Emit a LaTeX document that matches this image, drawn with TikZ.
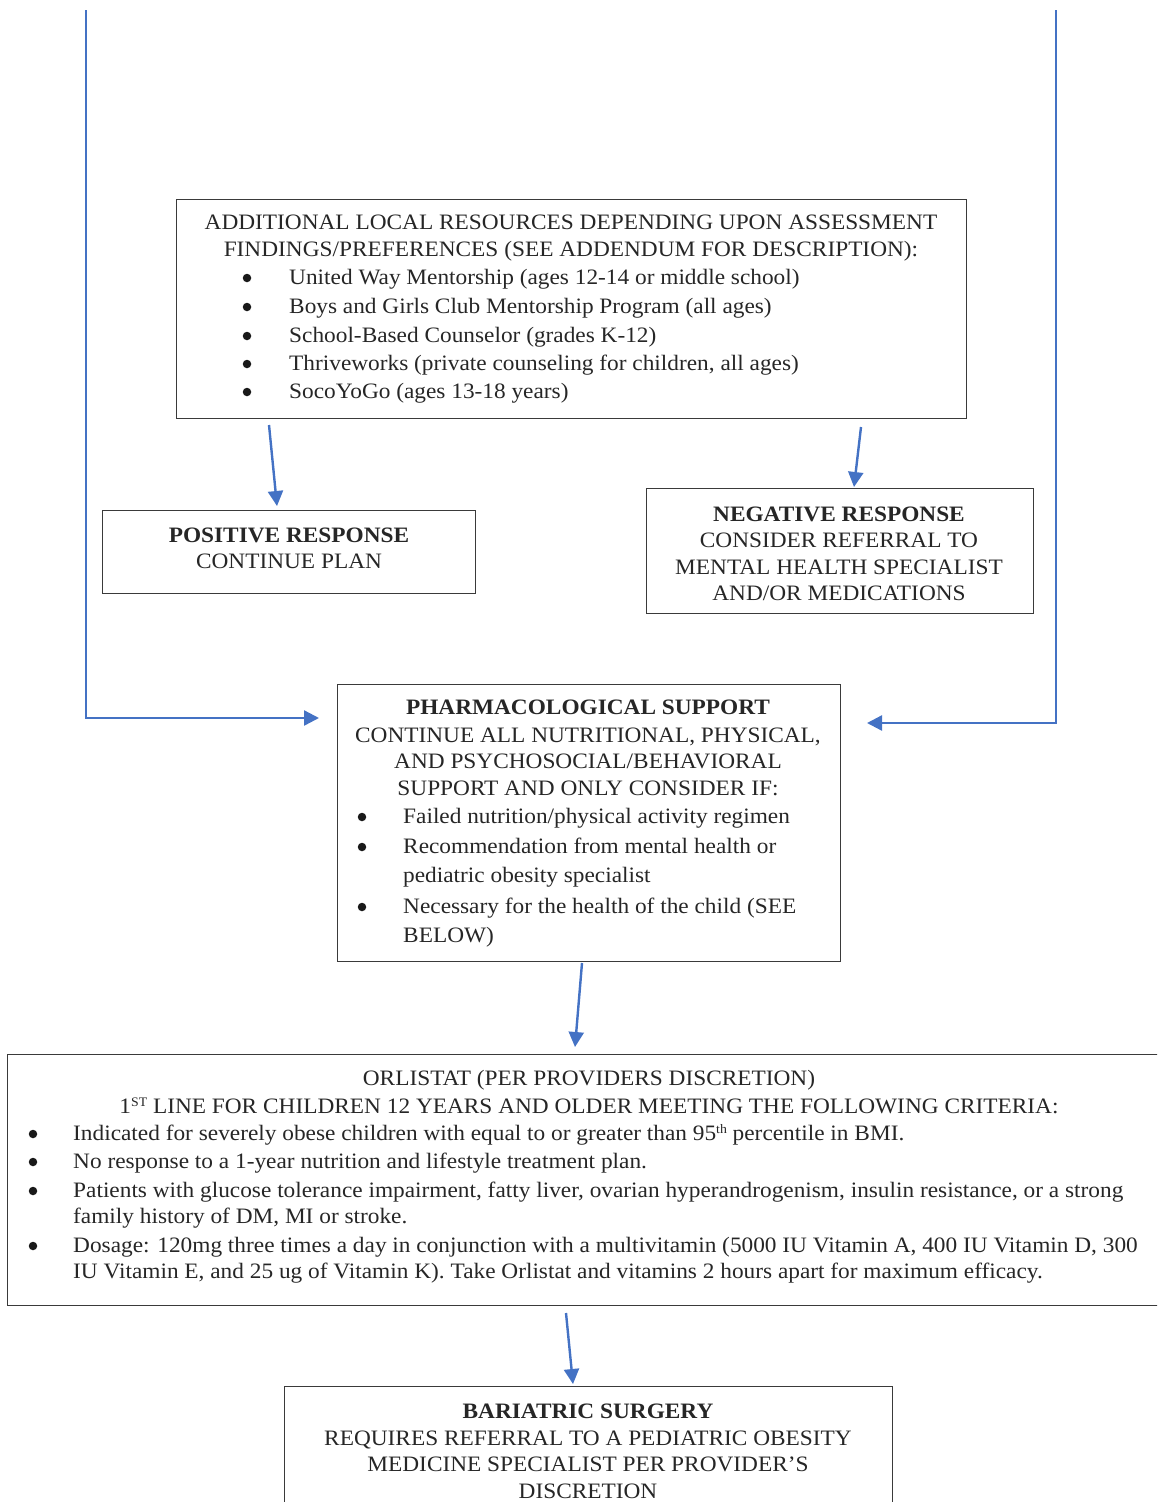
\documentclass[tikz,border=0pt]{standalone}
\usepackage{fontspec}
\setmainfont{Liberation Serif}[FakeStretch=1.06]
\usetikzlibrary{arrows.meta}
\definecolor{arrowblue}{HTML}{4472C4}
\definecolor{boxgray}{HTML}{3A3A3A}
\newcommand{\supsmall}[1]{\raisebox{6.5pt}{\fontsize{13}{13}\selectfont #1}}
\begin{document}
\begin{tikzpicture}[x=1pt,y=-1pt,
  box/.style={draw=boxgray,line width=1.3pt,inner sep=0pt,anchor=north west},
  txt/.style={inner sep=0pt,anchor=base,font=\fontsize{22}{27}\selectfont,text=black!85},
  ltxt/.style={txt,anchor=base west},
  btxt/.style={txt,font=\fontsize{22}{27}\selectfont\bfseries},
  dot/.style={circle,fill=black!90,inner sep=0pt,minimum size=8.5pt},
  flow/.style={draw=arrowblue,line width=2.4pt,-{Triangle[length=15pt,width=15pt]}}]
\useasboundingbox (0,0) rectangle (1157,1502);
\clip (0,0) rectangle (1157,1502);

% boxes
\node[box,minimum width=790pt,minimum height=219pt] (res) at (176,199) {};
\node[box,minimum width=373pt,minimum height=83pt] (pos) at (102,510) {};
\node[box,minimum width=387pt,minimum height=125pt] (neg) at (646,488) {};
\node[box,minimum width=503pt,minimum height=277pt] (pha) at (337,684) {};
\node[box,minimum width=1170pt,minimum height=251pt] (orl) at (7,1054) {};
\node[box,minimum width=608pt,minimum height=140pt] (bar) at (284,1386) {};

% resources text
\node[txt] (r1) at (571,229) {ADDITIONAL LOCAL RESOURCES DEPENDING UPON ASSESSMENT};
\node[txt] (r2) at (571,256) {FINDINGS/PREFERENCES (SEE ADDENDUM FOR DESCRIPTION):};
\node[dot] (rb1) at (247,278) {};
\node[dot] (rb2) at (247,307) {};
\node[dot] (rb3) at (247,336) {};
\node[dot] (rb4) at (247,364) {};
\node[dot] (rb5) at (247,392) {};
\node[ltxt] (rt1) at (289,284) {United Way Mentorship (ages 12-14 or middle school)};
\node[ltxt] (rt2) at (289,313) {Boys and Girls Club Mentorship Program (all ages)};
\node[ltxt] (rt3) at (289,342) {School-Based Counselor (grades K-12)};
\node[ltxt] (rt4) at (289,370) {Thriveworks (private counseling for children, all ages)};
\node[ltxt] (rt5) at (289,398) {SocoYoGo (ages 13-18 years)};

% positive
\node[btxt] (p1) at (289,542) {POSITIVE RESPONSE};
\node[txt] (p2) at (289,568) {CONTINUE PLAN};

% negative
\node[btxt] (n1) at (839,521) {NEGATIVE RESPONSE};
\node[txt] (n2) at (839,547) {CONSIDER REFERRAL TO};
\node[txt] (n3) at (839,574) {MENTAL HEALTH SPECIALIST};
\node[txt] (n4) at (839,600) {AND/OR MEDICATIONS};

% pharmacological
\node[btxt] (h1) at (588,714) {PHARMACOLOGICAL SUPPORT};
\node[txt] (h2) at (588,742) {CONTINUE ALL NUTRITIONAL, PHYSICAL,};
\node[txt] (h3) at (588,768) {AND PSYCHOSOCIAL/BEHAVIORAL};
\node[txt] (h4) at (588,795) {SUPPORT AND ONLY CONSIDER IF:};
\node[dot] (hb1) at (362,817) {};
\node[dot] (hb2) at (362,847) {};
\node[dot] (hb3) at (362,907) {};
\node[ltxt] (ht1) at (403,823) {Failed nutrition/physical activity regimen};
\node[ltxt] (ht2) at (403,853) {Recommendation from mental health or};
\node[ltxt] (ht3) at (403,882) {pediatric obesity specialist};
\node[ltxt] (ht4) at (403,913) {Necessary for the health of the child (SEE};
\node[ltxt] (ht5) at (403,942) {BELOW)};

% orlistat
\node[txt] (o1) at (589,1085) {ORLISTAT (PER PROVIDERS DISCRETION)};
\node[txt] (o2) at (589,1113) {1\supsmall{ST} LINE FOR CHILDREN 12 YEARS AND OLDER MEETING THE FOLLOWING CRITERIA:};
\node[dot] (ob1) at (33,1134) {};
\node[dot] (ob2) at (33,1162) {};
\node[dot] (ob3) at (33,1191) {};
\node[dot] (ob4) at (33,1246) {};
\node[ltxt] (ot1) at (73,1140) {Indicated for severely obese children with equal to or greater than 95\supsmall{th} percentile in BMI.};
\node[ltxt] (ot2) at (73,1168) {No response to a 1-year nutrition and lifestyle treatment plan.};
\node[ltxt] (ot3) at (73,1197) {Patients with glucose tolerance impairment, fatty liver, ovarian hyperandrogenism, insulin resistance, or a strong};
\node[ltxt] (ot4) at (73,1223) {family history of DM, MI or stroke.};
\node[ltxt] (ot5) at (73,1252) {Dosage: 120mg three times a day in conjunction with a multivitamin (5000 IU Vitamin A, 400 IU Vitamin D, 300};
\node[ltxt] (ot6) at (73,1278) {IU Vitamin E, and 25 ug of Vitamin K). Take Orlistat and vitamins 2 hours apart for maximum efficacy.};

% bariatric
\node[btxt] (s1) at (588,1418) {BARIATRIC SURGERY};
\node[txt] (s2) at (588,1445) {REQUIRES REFERRAL TO A PEDIATRIC OBESITY};
\node[txt] (s3) at (588,1471) {MEDICINE SPECIALIST PER PROVIDER’S};
\node[txt] (s4) at (588,1498) {DISCRETION};

% connector ends
\coordinate (ls) at (86,10);
\coordinate (lt) at (319,718);
\coordinate (rs) at (1056,10);
\coordinate (rt) at (867,723);
\coordinate (a1s) at (269,425);
\coordinate (a1t) at (277,506);
\coordinate (a2s) at (861,427);
\coordinate (a2t) at (854,487);
\coordinate (a3s) at (582,963);
\coordinate (a3t) at (575,1047);
\coordinate (a4s) at (566,1313);
\coordinate (a4t) at (573,1384);

\draw[flow] (ls) |- (lt);
\draw[flow] (rs) |- (rt);
\draw[flow] (a1s) -- (a1t);
\draw[flow] (a2s) -- (a2t);
\draw[flow] (a3s) -- (a3t);
\draw[flow] (a4s) -- (a4t);
\end{tikzpicture}
\end{document}
